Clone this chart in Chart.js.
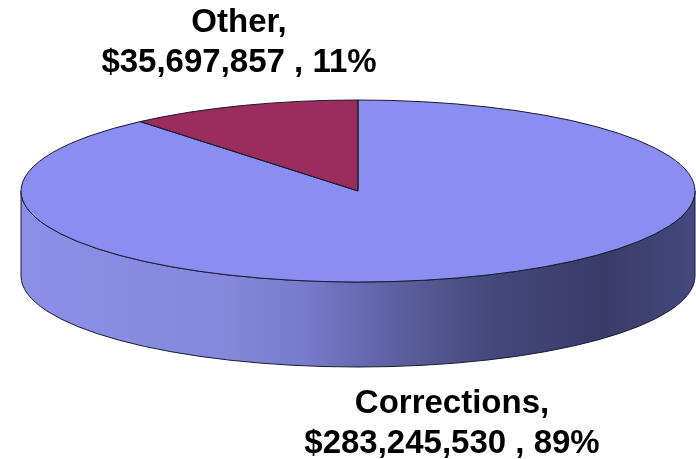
<!DOCTYPE html>
<html>
<head>
<meta charset="utf-8">
<script src="https://cdn.jsdelivr.net/npm/chart.js@4"></script>
<style>
  html, body { margin: 0; padding: 0; background: #fff; }
  #wrap { width: 696px; height: 459px; position: relative; }
</style>
</head>
<body>
<div id="wrap"><canvas id="chart" width="696" height="459"></canvas></div>
<script>
const categories = ['Corrections', 'Other'];
const amounts = [283245530, 35697857];
const percents = [89, 11];
const topColors = ['#8a8ef0', '#9a2c5e'];

// ellipse that the round pie is squashed into
const ELLIPSE = { cx: 358, cy: 191, rx: 337, ry: 91, depth: 85 };

// label anchor points (baseline of first line, centred)
const labelPos = [
    { x: 452, y: 413 },
    { x: 239, y: 32 }
];

function sideGradient(ctx) {
    const e = ELLIPSE;
    const g = ctx.createLinearGradient(e.cx - e.rx, 0, e.cx + e.rx, 0);
    g.addColorStop(0, '#8b8fe8');
    g.addColorStop(0.3, '#8589dc');
    g.addColorStop(0.42, '#777bcc');
    g.addColorStop(0.56, '#5c5f9e');
    g.addColorStop(0.7, '#45487c');
    g.addColorStop(0.86, '#393b68');
    g.addColorStop(1, '#45487e');
    return g;
}

const pie3d = {
    id: 'pie3d',
    beforeDatasetsDraw(chart) {
        const ctx = chart.ctx;
        const e = ELLIPSE;
        const arcs = chart.getDatasetMeta(0).data;
        // side wall of the front half, per slice
        arcs.forEach((arc, i) => {
            for (const shift of [0, 2 * Math.PI, -2 * Math.PI]) {
                const a = Math.max(arc.startAngle + shift, 0);
                const b = Math.min(arc.endAngle + shift, Math.PI);
                if (b <= a) continue;
                ctx.save();
                ctx.beginPath();
                ctx.ellipse(e.cx, e.cy, e.rx, e.ry, 0, a, b, false);
                ctx.lineTo(e.cx + e.rx * Math.cos(b), e.cy + e.ry * Math.sin(b) + e.depth);
                ctx.ellipse(e.cx, e.cy + e.depth, e.rx, e.ry, 0, b, a, true);
                ctx.closePath();
                ctx.fillStyle = i === 0 ? sideGradient(ctx) : '#5a1838';
                ctx.fill();
                ctx.strokeStyle = '#1a1a2e';
                ctx.lineWidth = 1;
                ctx.stroke();
                ctx.restore();
            }
        });
        // squash the round pie into the ellipse
        const first = arcs[0];
        const r = first.outerRadius;
        ctx.save();
        ctx.translate(e.cx, e.cy);
        ctx.scale(e.rx / r, e.ry / r);
        ctx.translate(-first.x, -first.y);
    },
    afterDatasetsDraw(chart) {
        const ctx = chart.ctx;
        ctx.restore();
        const e = ELLIPSE;
        const arcs = chart.getDatasetMeta(0).data;
        ctx.save();
        ctx.strokeStyle = '#1a1a2e';
        ctx.lineWidth = 1;
        arcs.forEach(arc => {
            ctx.beginPath();
            ctx.moveTo(e.cx, e.cy);
            ctx.ellipse(e.cx, e.cy, e.rx, e.ry, 0, arc.startAngle, arc.endAngle, false);
            ctx.closePath();
            ctx.stroke();
        });
        ctx.restore();
    },
    afterDraw(chart) {
        const ctx = chart.ctx;
        const vals = chart.data.datasets[0].data;
        ctx.save();
        ctx.fillStyle = '#000';
        ctx.font = 'bold 33px "Liberation Sans", Arial, sans-serif';
        ctx.textAlign = 'center';
        ctx.textBaseline = 'alphabetic';
        chart.data.labels.forEach((label, i) => {
            const p = labelPos[i];
            ctx.fillText(label + ',', p.x, p.y);
            ctx.fillText('$' + vals[i].toLocaleString('en-US') + ' , ' + percents[i] + '%', p.x, p.y + 40);
        });
        ctx.restore();
    }
};

new Chart(document.getElementById('chart'), {
    type: 'pie',
    data: {
        labels: categories,
        datasets: [{
            data: amounts,
            backgroundColor: topColors,
            borderWidth: 0
        }]
    },
    options: {
        responsive: false,
        animation: false,
        layout: { padding: 0 },
        plugins: {
            legend: { display: false },
            tooltip: { enabled: false }
        }
    },
    plugins: [pie3d]
});
</script>
</body>
</html>
